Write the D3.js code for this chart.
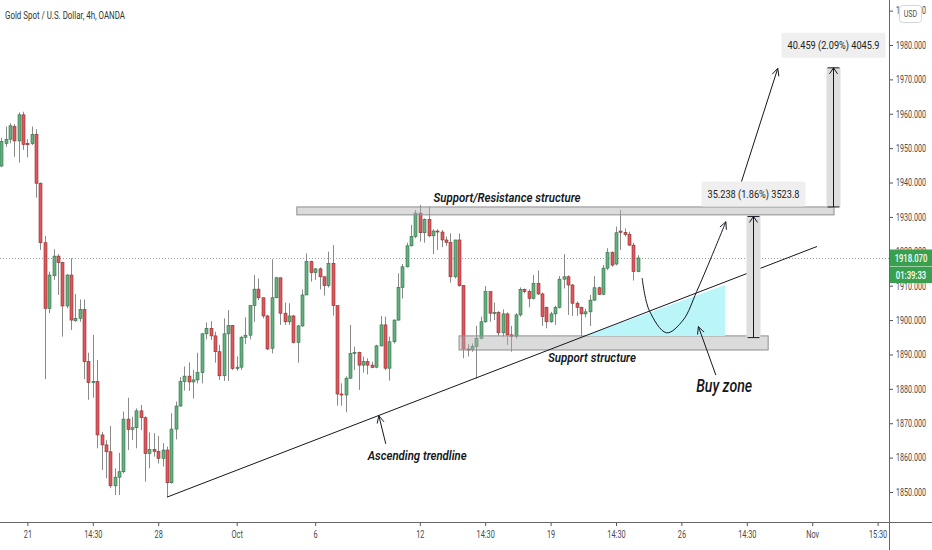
<!DOCTYPE html>
<meta charset="utf-8">
<script src="https://d3js.org/d3.v7.min.js"></script>
<style>
  body { margin: 0; background: #fff; }
  text { font-family: Roboto, "Open Sans", sans-serif; }
</style>
<div id="chart"></div>

<script>

    // bar index 0 = first 4h bar of Mon Sep 21, bar 140 = the live bar
    const firstIndex = -6;

    const opens = [
        1944.8, 1951.4, 1952.6, 1956.3, 1952.1, 1959.7, 1951.4, 1951.3, 1954.0, 1939.8,
        1922.5, 1903.4, 1912.9, 1918.6, 1916.7, 1904.1, 1913.1, 1899.8, 1900.5, 1903.1,
        1887.9, 1881.8, 1882.1, 1866.6, 1863.7, 1861.7, 1851.8, 1854.3, 1855.9, 1871.2,
        1868.2, 1868.7, 1873.6, 1871.6, 1861.2, 1862.4, 1861.8, 1859.8, 1862.2, 1852.7,
        1868.3, 1875.0, 1882.1, 1883.7, 1882.0, 1882.6, 1884.7, 1896.0, 1897.6, 1895.4,
        1890.8, 1883.8, 1896.0, 1898.4, 1885.9, 1886.3, 1895.0, 1895.6, 1904.2, 1909.0,
        1906.5, 1901.2, 1891.8, 1906.5, 1912.3, 1902.0, 1899.5, 1901.2, 1893.5, 1898.3,
        1907.3, 1917.0, 1913.8, 1914.9, 1912.6, 1910.0, 1916.5, 1904.2, 1878.5, 1878.2,
        1883.1, 1890.3, 1890.6, 1886.9, 1887.9, 1886.9, 1886.3, 1892.5, 1898.6, 1886.0,
        1893.7, 1900.0, 1909.5, 1915.5, 1921.6, 1924.3, 1931.1, 1925.4, 1929.3, 1924.5,
        1925.9, 1925.6, 1923.3, 1922.6, 1912.6, 1923.3, 1910.0, 1891.6, 1891.4, 1892.3,
        1894.7, 1899.5, 1908.3, 1902.0, 1902.2, 1896.3, 1901.8, 1895.7, 1895.3, 1901.5,
        1908.9, 1908.3, 1906.3, 1910.7, 1907.6, 1903.7, 1899.5, 1901.8, 1903.7, 1911.9,
        1912.6, 1910.2, 1904.9, 1903.7, 1901.8, 1902.4, 1905.8, 1909.4, 1907.5, 1915.1,
        1919.6, 1916.3, 1925.9, 1925.5, 1924.9, 1921.8, 1914.1
    ];
    const highs = [
        1953.0, 1956.3, 1957.2, 1957.0, 1960.4, 1960.6, 1952.6, 1956.3, 1955.5, 1940.0,
        1924.5, 1914.1, 1920.6, 1919.2, 1916.9, 1913.4, 1918.0, 1907.6, 1906.0, 1906.0,
        1890.5, 1895.7, 1888.4, 1867.5, 1865.1, 1869.2, 1856.9, 1861.4, 1873.4, 1877.4,
        1871.9, 1874.3, 1875.3, 1872.0, 1867.3, 1867.1, 1866.3, 1864.2, 1863.2, 1872.9,
        1876.3, 1883.4, 1886.5, 1887.7, 1885.5, 1890.5, 1896.2, 1899.3, 1899.7, 1896.6,
        1892.8, 1900.5, 1902.9, 1898.6, 1889.4, 1895.4, 1900.8, 1904.2, 1913.1, 1912.1,
        1906.5, 1901.5, 1917.7, 1912.6, 1912.3, 1905.1, 1904.9, 1901.5, 1898.6, 1908.9,
        1919.4, 1917.3, 1915.1, 1915.3, 1912.6, 1919.9, 1921.8, 1904.2, 1881.6, 1883.6,
        1898.6, 1892.3, 1890.8, 1889.4, 1888.9, 1887.9, 1892.8, 1901.2, 1901.0, 1895.2,
        1900.2, 1913.6, 1916.3, 1922.5, 1927.7, 1932.0, 1933.5, 1929.6, 1933.0, 1926.4,
        1926.4, 1926.2, 1924.3, 1925.2, 1923.3, 1925.2, 1910.2, 1893.0, 1893.2, 1898.3,
        1901.0, 1909.9, 1908.3, 1905.1, 1902.6, 1903.1, 1902.2, 1898.3, 1902.0, 1909.5,
        1909.2, 1908.9, 1913.1, 1914.4, 1908.0, 1903.9, 1902.4, 1904.2, 1912.8, 1919.2,
        1913.0, 1910.5, 1905.4, 1903.9, 1903.3, 1907.3, 1912.8, 1909.7, 1916.0, 1920.9,
        1920.0, 1927.2, 1932.0, 1926.7, 1925.7, 1922.5, 1918.9
    ];
    const lows = [
        1944.5, 1950.4, 1951.4, 1947.5, 1945.8, 1949.5, 1947.3, 1950.9, 1935.6, 1920.4,
        1882.8, 1902.0, 1911.7, 1907.3, 1895.2, 1903.4, 1897.1, 1899.5, 1899.5, 1882.8,
        1876.8, 1877.4, 1862.7, 1856.4, 1854.0, 1851.1, 1849.1, 1849.1, 1855.4, 1862.2,
        1865.1, 1862.7, 1868.0, 1853.0, 1856.9, 1860.3, 1858.3, 1857.4, 1848.6, 1852.4,
        1865.3, 1874.8, 1879.5, 1879.4, 1877.2, 1881.6, 1881.6, 1894.4, 1894.2, 1887.6,
        1882.6, 1882.3, 1882.3, 1885.5, 1885.3, 1885.5, 1893.0, 1894.4, 1899.5, 1905.8,
        1900.5, 1891.3, 1890.3, 1906.3, 1898.6, 1898.6, 1898.6, 1893.2, 1887.6, 1898.0,
        1907.3, 1911.2, 1911.7, 1908.9, 1907.1, 1909.5, 1901.3, 1875.1, 1875.1, 1873.2,
        1882.9, 1885.5, 1879.7, 1884.7, 1884.2, 1886.0, 1886.0, 1892.3, 1885.5, 1882.4,
        1893.2, 1899.8, 1906.3, 1915.3, 1921.4, 1923.8, 1922.8, 1922.5, 1924.1, 1919.2,
        1920.4, 1921.2, 1921.6, 1910.9, 1912.1, 1909.7, 1888.9, 1889.4, 1890.8, 1883.0,
        1894.4, 1899.2, 1899.5, 1900.0, 1895.4, 1895.2, 1892.8, 1890.8, 1894.6, 1901.0,
        1907.8, 1903.7, 1906.0, 1907.3, 1898.3, 1897.6, 1899.2, 1898.6, 1903.4, 1909.2,
        1901.5, 1901.2, 1901.2, 1895.2, 1900.8, 1898.3, 1905.6, 1907.3, 1907.3, 1914.6,
        1915.5, 1915.9, 1920.4, 1924.3, 1921.5, 1911.5, 1913.9
    ];
    const closes = [
        1951.9, 1952.6, 1956.5, 1952.1, 1959.7, 1951.1, 1951.0, 1954.0, 1939.8, 1922.5,
        1903.4, 1913.1, 1918.6, 1916.7, 1904.1, 1913.1, 1900.0, 1900.5, 1903.1, 1887.9,
        1881.8, 1882.1, 1866.6, 1863.7, 1861.7, 1851.8, 1854.3, 1855.9, 1871.2, 1868.2,
        1868.7, 1873.6, 1871.6, 1861.2, 1862.4, 1861.8, 1859.8, 1862.2, 1852.7, 1868.3,
        1875.0, 1882.1, 1883.7, 1882.0, 1882.6, 1884.7, 1896.0, 1897.6, 1895.4, 1890.8,
        1883.8, 1896.0, 1898.4, 1885.9, 1886.3, 1895.0, 1895.6, 1904.2, 1909.0, 1906.5,
        1901.2, 1891.6, 1906.5, 1912.3, 1902.0, 1899.5, 1901.2, 1893.5, 1898.3, 1907.3,
        1917.0, 1913.8, 1914.9, 1912.6, 1910.0, 1916.5, 1904.2, 1878.5, 1878.2, 1883.1,
        1890.3, 1890.6, 1886.9, 1887.9, 1886.9, 1886.2, 1892.5, 1898.6, 1886.0, 1893.7,
        1900.0, 1909.5, 1915.5, 1921.6, 1924.3, 1931.1, 1925.4, 1929.3, 1924.5, 1925.9,
        1925.6, 1923.3, 1922.6, 1912.6, 1923.3, 1910.0, 1891.6, 1891.4, 1892.3, 1894.7,
        1899.5, 1908.3, 1902.0, 1902.2, 1896.3, 1901.8, 1895.7, 1895.3, 1901.5, 1908.9,
        1908.3, 1906.3, 1910.7, 1907.6, 1901.0, 1899.5, 1901.8, 1903.7, 1911.9, 1912.6,
        1910.2, 1904.9, 1903.7, 1901.8, 1902.4, 1905.8, 1909.4, 1907.5, 1915.1, 1919.6,
        1916.0, 1925.4, 1925.5, 1924.9, 1921.8, 1914.1, 1918.07
    ];

    const lastPrice = 1918.07;
    const countdown = "01:39:33";
    const title = "Gold Spot / U.S. Dollar, 4h, OANDA";

    const priceTicks = d3.range(1850, 2000, 10);
    const timeTickIdx = [0, 15, 30, 48, 66, 90, 105, 120, 135, 150, 165, 180, 195];
    const timeTickLabels = ["21", "14:30", "28", "Oct", "6", "12", "14:30", "19", "14:30", "26", "14:30", "Nov", "15:30"];

    // drawings, anchored as [bar index, price]
    const resistanceZone = [[61.8, 1930.6], [185.0, 1932.9]];
    const supportZone = [[99.0, 1891.3], [169.9, 1895.4]];
    const trendline = [[32.0, 1848.5], [181.1, 1921.4]];
    const buyZone = [[127.9, 1895.4], [160.0, 1910.2], [160.0, 1895.4]];
    const bouncePath = [[141.0, 1912.2], [142.6, 1902.9], [146.6, 1896.3], [150.4, 1900.0], [153.5, 1908.3], [156.9, 1918.4], [160.2, 1928.6]];
    const targetArrow = [[162.3, 1934.4], [172.1, 1973.2]];
    const buyArrow = [[157.9, 1884.0], [153.9, 1898.1]];
    const trendArrow = [[82.2, 1864.0], [80.6, 1872.2]];

    const measureIdx = [166.4, 184.8];
    const measureFrom = [1894.9, 1932.9];
    const measureTo = [1930.138, 1973.359];
    const measureLabels = ["35.238 (1.86%) 3523.8", "40.459 (2.09%) 4045.9"];

    const notes = ["Support/Resistance structure", "Support structure", "Ascending trendline", "Buy zone"];
    const noteAt = [[110.0, 1935.5], [129.5, 1889.0], [89.4, 1860.5], [159.8, 1880.8]];

    const W = 932, H = 550, plotW = 889, plotH = 522;
    const upFill = "#64b07f", upLine = "#2f6e47", downFill = "#e0565e", downLine = "#8c2f2c";
    const green = "#39a04f";

    const svg = d3.select("#chart")
        .append("svg")
        .attr("width", W)
        .attr("height", H);

    svg.append("defs").append("clipPath")
        .attr("id", "plot")
        .append("rect")
        .attr("width", plotW)
        .attr("height", plotH);

    const x = d3.scaleLinear().domain([0, 140]).range([27.4, 637.8]);
    const y = d3.scaleLinear().domain([1850, 1980]).range([492, 45]);

    const candles = opens.map((o, k) => ({
        i: firstIndex + k, o, h: highs[k], l: lows[k], c: closes[k]
    }));

    // the chart's type is narrow: squeeze text horizontally around its anchor
    function narrow(sel, k) {
        sel.each(function () {
            const t = d3.select(this);
            const x0 = +t.attr("x") || 0;
            t.attr("x", 0).attr("transform", `translate(${x0},0) scale(${k},1)`);
        });
    }

    const plot = svg.append("g").attr("clip-path", "url(#plot)");

    // last price line
    plot.append("line")
        .attr("x1", 0).attr("x2", plotW)
        .attr("y1", Math.round(y(lastPrice)) + 0.5).attr("y2", Math.round(y(lastPrice)) + 0.5)
        .attr("stroke", "#9aa19c")
        .attr("stroke-dasharray", "1,2");

    const bars = plot.append("g").selectAll("g")
        .data(candles)
        .join("g");

    bars.append("line")
        .attr("x1", d => Math.round(x(d.i)) + 0.5)
        .attr("x2", d => Math.round(x(d.i)) + 0.5)
        .attr("y1", d => y(d.h))
        .attr("y2", d => y(d.l))
        .attr("stroke", "#8a8a8a");

    bars.append("rect")
        .attr("x", d => Math.round(x(d.i)) - 1)
        .attr("width", 3)
        .attr("y", d => y(Math.max(d.o, d.c)))
        .attr("height", d => Math.max(1, Math.abs(y(d.o) - y(d.c))))
        .attr("fill", d => d.c >= d.o ? upFill : downFill)
        .attr("stroke", d => d.c >= d.o ? upLine : downLine)
        .attr("stroke-width", 0.6);

    // zones
    function zone(z) {
        plot.append("rect")
            .attr("x", x(z[0][0]))
            .attr("width", x(z[1][0]) - x(z[0][0]))
            .attr("y", y(z[1][1]))
            .attr("height", y(z[0][1]) - y(z[1][1]))
            .attr("fill", "rgba(175,175,175,0.45)")
            .attr("stroke", "#8e8e8e");
    }
    zone(resistanceZone);
    zone(supportZone);

    plot.append("path")
        .attr("d", d3.line().x(d => x(d[0])).y(d => y(d[1]))(buyZone) + "Z")
        .attr("fill", "#b9f5f9");

    plot.append("line")
        .attr("x1", x(trendline[0][0])).attr("y1", y(trendline[0][1]))
        .attr("x2", x(trendline[1][0])).attr("y2", y(trendline[1][1]))
        .attr("stroke", "#131722");

    function arrowHead(p0, p1, len) {
        const a = Math.atan2(p1[1] - p0[1], p1[0] - p0[0]);
        const s = 0.45;
        const l = [p1[0] - len * Math.cos(a - s), p1[1] - len * Math.sin(a - s)];
        const r = [p1[0] - len * Math.cos(a + s), p1[1] - len * Math.sin(a + s)];
        plot.append("path")
            .attr("d", `M${l}L${p1}L${r}`)
            .attr("fill", "none")
            .attr("stroke", "#131722");
    }

    function arrow(pts, curve) {
        const px = pts.map(d => [x(d[0]), y(d[1])]);
        plot.append("path")
            .attr("d", d3.line().curve(curve || d3.curveLinear)(px))
            .attr("fill", "none")
            .attr("stroke", "#131722");
        arrowHead(px[px.length - 2], px[px.length - 1], 8);
    }
    arrow(bouncePath, d3.curveCatmullRom);
    arrow(targetArrow);
    arrow(buyArrow);
    arrow(trendArrow);

    // price range measurements
    measureIdx.forEach((m, k) => {
        const xc = Math.round(x(m)) + 0.5, y1 = y(measureFrom[k]), y2 = y(measureTo[k]);
        plot.append("rect")
            .attr("x", xc - 7).attr("width", 14)
            .attr("y", y2).attr("height", y1 - y2)
            .attr("fill", "#dedede");
        plot.append("path")
            .attr("d", `M${xc},${y1}V${y2}M${xc - 6},${y1}H${xc + 6}M${xc - 6},${y2}H${xc + 6}M${xc - 4},${y2 + 6}L${xc},${y2}L${xc + 4},${y2 + 6}`)
            .attr("fill", "none")
            .attr("stroke", "#131722");
        const t = plot.append("text")
            .attr("x", xc).attr("y", y2 - 22.5)
            .attr("dy", "0.35em")
            .attr("text-anchor", "middle")
            .attr("font-size", 11)
            .attr("fill", "#222")
            .attr("textLength", 92)
            .attr("lengthAdjust", "spacingAndGlyphs")
            .text(measureLabels[k]);
        plot.insert("rect", () => t.node())
            .attr("x", xc - 52).attr("width", 104)
            .attr("y", y2 - 35).attr("height", 25)
            .attr("rx", 2)
            .attr("fill", "#efefef");
    });

    const noteSize = [12.5, 12.5, 12, 18];
    const noteWeight = [600, 600, 600, 500];
    const noteWidth = [147, 88, 99, 56];
    notes.forEach((n, k) => {
        plot.append("text")
            .attr("x", x(noteAt[k][0])).attr("y", y(noteAt[k][1]))
            .attr("dy", "0.35em")
            .attr("text-anchor", "middle")
            .attr("font-family", "'Open Sans', sans-serif")
            .attr("font-style", "italic")
            .attr("font-weight", noteWeight[k])
            .attr("font-size", noteSize[k])
            .attr("fill", "#131722")
            .attr("textLength", noteWidth[k])
            .attr("lengthAdjust", "spacingAndGlyphs")
            .text(n);
    });

    // axes
    const yAxis = svg.append("g")
        .attr("transform", `translate(${plotW}, 0)`)
        .call(d3.axisRight(y).tickValues(priceTicks).tickSize(4).tickPadding(3).tickFormat(d3.format(".3f")));
    yAxis.select(".domain").remove();
    yAxis.selectAll("line").attr("stroke", "#555");
    yAxis.selectAll("text")
        .attr("font-size", 10.5)
        .attr("fill", "#4a4a4a")
        .attr("font-family", "Roboto")
        .call(narrow, 0.68);

    const xAxis = svg.append("g")
        .attr("transform", `translate(0, ${plotH})`)
        .call(d3.axisBottom(x).tickValues(timeTickIdx).tickSize(4).tickPadding(5).tickFormat((d, i) => timeTickLabels[i]));
    xAxis.select(".domain").remove();
    xAxis.selectAll("line").attr("stroke", "#555");
    xAxis.selectAll("text")
        .attr("font-size", 10.5)
        .attr("fill", "#4a4a4a")
        .attr("font-family", "Roboto")
        .call(narrow, 0.7);

    svg.append("line")
        .attr("x1", 0).attr("x2", W)
        .attr("y1", plotH + 0.5).attr("y2", plotH + 0.5)
        .attr("stroke", "#666");
    svg.append("line")
        .attr("x1", plotW + 0.5).attr("x2", plotW + 0.5)
        .attr("y1", 0).attr("y2", H)
        .attr("stroke", "#666");

    // last price and countdown tags
    const yl = Math.round(y(lastPrice));
    [[lastPrice.toFixed(3), yl - 8.5], [countdown, yl + 8.5]].forEach(([s, top]) => {
        svg.append("rect")
            .attr("x", plotW + 1).attr("width", W - plotW - 1)
            .attr("y", top).attr("height", 16.5)
            .attr("fill", green);
        svg.append("text")
            .attr("x", (plotW + W) / 2 + 0.5).attr("y", top + 8.5)
            .attr("dy", "0.35em")
            .attr("text-anchor", "middle")
            .attr("font-size", 11)
            .attr("font-weight", 500)
            .attr("fill", "#fff")
            .text(s)
            .call(narrow, 0.7);
    });

    // currency badge
    svg.append("rect")
        .attr("x", 899.5).attr("y", 5.5)
        .attr("width", 22).attr("height", 17)
        .attr("rx", 3)
        .attr("fill", "#fff")
        .attr("stroke", "#d6d6d6");
    svg.append("text")
        .attr("x", 910.5).attr("y", 14)
        .attr("dy", "0.35em")
        .attr("text-anchor", "middle")
        .attr("font-size", 9.5)
        .attr("fill", "#555")
        .text("USD")
        .call(narrow, 0.75);

    svg.append("text")
        .attr("x", 5).attr("y", 15)
        .attr("dy", "0.35em")
        .attr("font-size", 11)
        .attr("fill", "#333")
        .text(title)
        .call(narrow, 0.72);

</script>
